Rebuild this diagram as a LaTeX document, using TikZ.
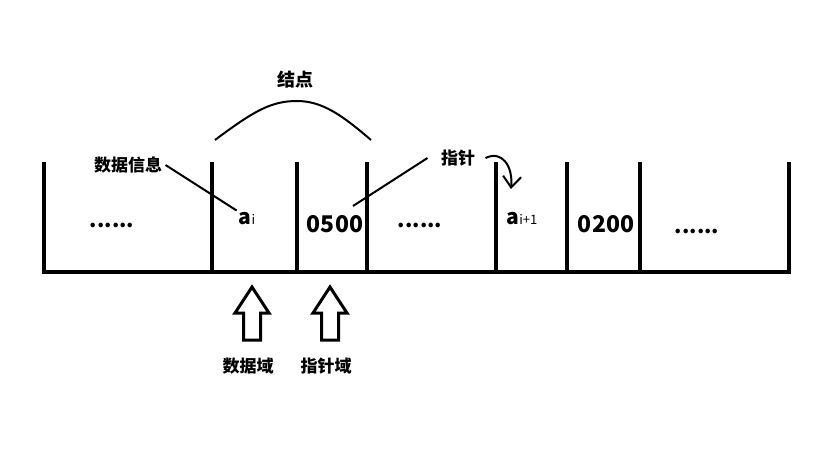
\documentclass[tikz,border=0pt]{standalone}
\usepackage{fontspec}
\setmainfont{Noto Sans CJK SC}
\usetikzlibrary{arrows.meta}

\begin{document}
\begin{tikzpicture}[x=1pt, y=-1pt,
  wall/.style={line width=4.5pt, line join=miter},
  lead/.style={line width=2pt},
  blk/.style={line width=3pt, line join=miter},
  tag/.style={font=\fontsize{17}{19}\selectfont\bfseries},
  num/.style={font=\fontsize{23}{26}\selectfont\bfseries},
  dots/.style={font=\fontsize{21}{24}\selectfont\bfseries},
  val/.style={font=\fontsize{21}{24}\selectfont\bfseries, inner sep=2pt}]
  \useasboundingbox (0,0) rectangle (829,463);

  % container and cell walls
  \draw[wall] (44,162) -- (44,272) -- (789,272) -- (789,162);
  \foreach \x in {212,297,367,496,567,640}
    \draw[wall] (\x,162) -- (\x,272);

  % cell contents
  \node[dots] (d1) at (112,225) {......};
  \node[val] (ai) at (247,219) {a{\fontsize{13}{15}\selectfont\mdseries i}};
  \node[num] (p1) at (335,224) {0500};
  \node[dots] (d2) at (420,225) {......};
  \node[val] (aj) at (522,219) {a{\fontsize{13}{15}\selectfont\mdseries i+1}};
  \node[num] (p2) at (606,224) {0200};
  \node[dots] (d3) at (697,231) {......};

  % node brace
  \node[font=\fontsize{18}{20}\selectfont\bfseries] (node) at (295,80) {结点};
  \draw[lead] (215,140) .. controls (255,110) and (272,101) .. (297,101)
    .. controls (322,101) and (342,115) .. (371,140);

  % labels with leader lines
  \node[tag] (info) at (128,165) {数据信息};
  \node[tag] (ptr) at (458,158) {指针};
  \coordinate (ptrend) at (353,206);
  \coordinate (ajtop) at (511,189);
  \draw[lead] (info.east) -- (ai.north west);
  \draw[lead] ([xshift=-10pt]ptr.west) -- (ptrend);
  \draw[lead, -{Straight Barb[length=11pt, width=18pt, line width=2pt]}]
    ([xshift=7pt]ptr.east) .. controls (502,150) and (513,166) .. (ajtop);

  % field arrows
  \foreach \x/\t/\n in {252/数据域/dfield, 330/指针域/pfield} {
    \draw[blk] (\x,287) -- (\x+17,313) -- (\x+8.5,313) -- (\x+8.5,340)
      -- (\x-8.5,340) -- (\x-8.5,313) -- (\x-17,313) -- cycle;
    \node[tag] (\n) at (\x-4,366) {\t};
  }
\end{tikzpicture}
\end{document}
